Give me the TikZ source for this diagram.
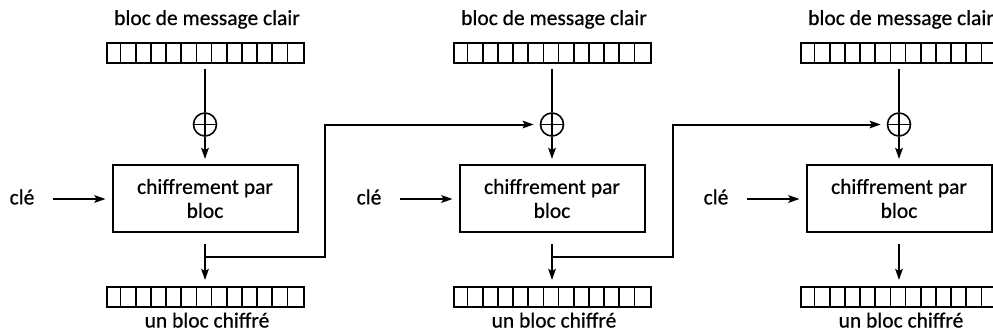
\documentclass[tikz,border=0pt]{standalone}
\usepackage{fontspec}
\setmainfont{Carlito}[FakeBold=0.6]
\usetikzlibrary{arrows.meta}
\begin{document}
\begin{tikzpicture}[x=1pt, y=-1pt, line width=2pt,
  txt/.style={font=\fontsize{21.5}{24}\selectfont, inner sep=0pt},
  cipher/.style={draw, minimum width=185pt, minimum height=67pt, align=center,
    inner sep=0pt, font=\fontsize{21.5}{24}\selectfont},
  register/.style={draw, minimum width=197pt, minimum height=20pt, inner sep=0pt},
  xorop/.style={circle, draw, line width=1.6pt, minimum size=23pt, inner sep=0pt,
    path picture={\draw[line width=1.6pt]
      (path picture bounding box.north) -- (path picture bounding box.south)
      (path picture bounding box.west) -- (path picture bounding box.east);}},
  tip/.style={-{Stealth[length=11pt, width=7.5pt, inset=2pt]}},
  link/.style={line width=2pt}
]
\useasboundingbox (0,0) rectangle (993,333);
\clip (0,0) rectangle (993,333);

\foreach \i/\cx in {1/205, 2/552, 3/899} {
  % plaintext block with its 13 cells
  \node[txt, anchor=base] (pt\i) at (\cx+2, 25) {bloc de message clair};
  \node[register] (in\i) at (\cx, 53) {};
  \foreach \k in {1,...,12}
    \draw[line width=1.6pt] ([xshift=\k*197/13 pt]in\i.north west) -- ([xshift=\k*197/13 pt]in\i.south west);
  % xor and block cipher
  \node[xorop] (x\i) at (\cx, 124.5) {};
  \node[cipher] (c\i) at (\cx, 198.5) {chiffrement par\\bloc};
  % key input
  \node[txt] (k\i) at (\cx-183, 197) {clé};
  \coordinate (ks\i) at (\cx-152, 199);
  % ciphertext block
  \node[register] (out\i) at (\cx, 297) {};
  \foreach \k in {1,...,12}
    \draw[line width=1.6pt] ([xshift=\k*197/13 pt]out\i.north west) -- ([xshift=\k*197/13 pt]out\i.south west);
  \node[txt, anchor=base] (ct\i) at (\cx+2, 327.5) {un bloc chiffré};
  % connectors
  \draw[link, shorten <=5pt] (in\i) -- (x\i);
  \draw[link, tip, shorten >=5pt] (x\i) -- (x\i |- c\i.north);
  \draw[link, tip, shorten >=6pt] (ks\i) -- (ks\i -| c\i.west);
  \draw[link, tip, shorten <=11pt, shorten >=6pt] (c\i) -- (out\i);
  \coordinate (j\i) at (\cx, 257);
}

% chaining: each ciphertext feeds the next xor
\coordinate (b1) at (325, 257);
\coordinate (b2) at (673, 257);
\draw[link, tip, shorten >=6pt] (j1) -- (b1) |- (x2.west);
\draw[link, tip, shorten >=6pt] (j2) -- (b2) |- (x3.west);
\end{tikzpicture}
\end{document}
